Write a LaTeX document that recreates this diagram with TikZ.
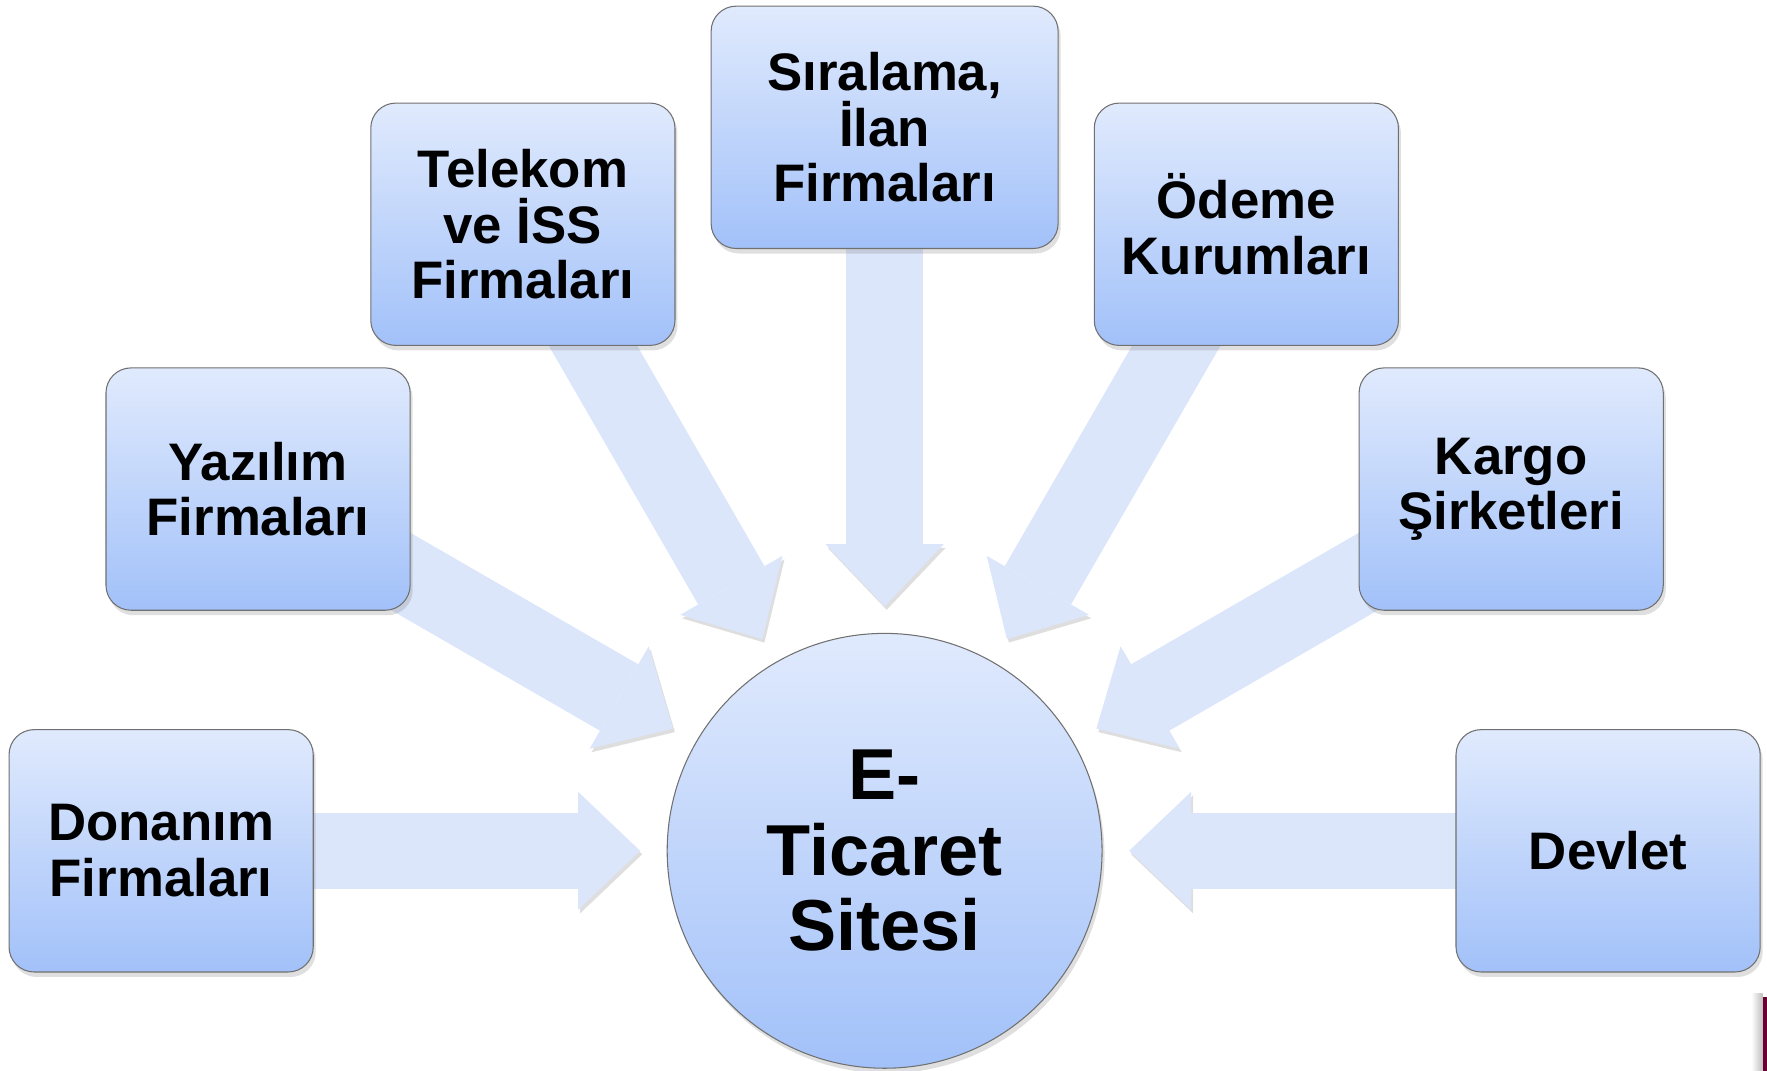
\documentclass[tikz,border=0pt]{standalone}
\usepackage{fontspec}
\setmainfont{Liberation Sans}
\usetikzlibrary{arrows.meta,shadows}
\definecolor{kutuust}{HTML}{E0EAFD}
\definecolor{kutualt}{HTML}{A2C1F9}
\definecolor{okrenk}{HTML}{DCE6FB}
\definecolor{cerceve}{HTML}{707070}
\definecolor{bordo}{HTML}{6A0032}
\pgfdeclarelayer{arka}
\pgfsetlayers{arka,main}

\begin{document}
\begin{tikzpicture}[x=0.0225cm, y=0.0225cm]
        \useasboundingbox (-785,-195) rectangle (783,755);
        \tikzstyle{kutu}=[rectangle, rounded corners=0.5cm, draw=cerceve, line width=0.6pt, top color=kutuust, bottom color=kutualt, minimum width=6.075cm, minimum height=4.84cm, align=center, font=\fontsize{30}{31.5}\selectfont\bfseries, drop shadow={shadow xshift=0.5mm, shadow yshift=-1mm, opacity=0.25}];
        \tikzstyle{ok}=[draw=okrenk, line width=1.53cm, -{Triangle[length=1.24cm, width=2.36cm, line width=0pt]}, shorten >=0.54cm, preaction={draw=black!13, transform canvas={shift={(0.4mm,-0.7mm)}}}];

        \node[circle, draw=cerceve, line width=0.6pt, top color=kutuust, bottom color=kutualt, minimum size=8.685cm, inner sep=0, outer sep=0, align=center, font=\fontsize{41}{43}\selectfont\bfseries, drop shadow={shadow xshift=0.5mm, shadow yshift=-1mm, opacity=0.25}] (hub) at (0,0) {E-\\Ticaret\\Sitesi};

        \node[kutu] (donanim) at (180:642) {Donanım\\Firmaları};
        \node[kutu] (yazilim) at (150:642) {Yazılım\\Firmaları};
        \node[kutu] (telekom) at (120:642) {Telekom\\ve İSS\\Firmaları};
        \node[kutu, minimum width=6.93cm] (siralama) at (90:642) {Sıralama,\\İlan\\Firmaları};
        \node[kutu] (odeme) at (60:642) {Ödeme\\Kurumları};
        \node[kutu] (kargo) at (30:642) {Kargo\\Şirketleri};
        \node[kutu] (devlet) at (0:642) {Devlet};

        % oklar kutularin arkasinda
        \begin{pgfonlayer}{arka}
            \draw[ok] (donanim.center) -- (hub);
            \draw[ok] (yazilim.center) -- (hub);
            \draw[ok] (telekom.center) -- (hub);
            \draw[ok] (siralama.center) -- (hub);
            \draw[ok] (odeme.center) -- (hub);
            \draw[ok] (kargo.center) -- (hub);
            \draw[ok] (devlet.center) -- (hub);
        \end{pgfonlayer}

        \shade[left color=white, right color=black!25] (769,-127) rectangle (779,-195);
        \fill[bordo] (779,-130) rectangle (783,-195);
\end{tikzpicture}
\end{document}
